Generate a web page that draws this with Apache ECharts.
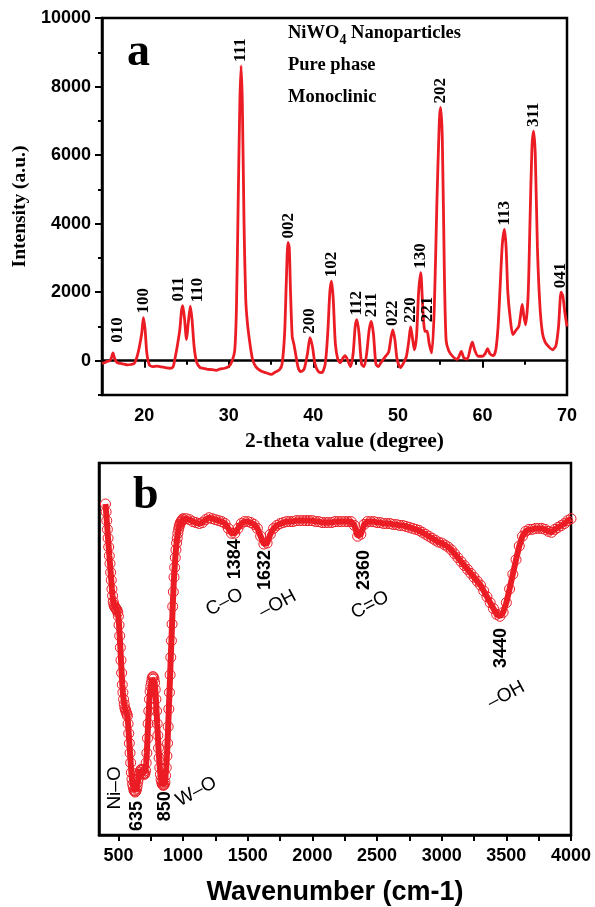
<!DOCTYPE html>
<html>
<head>
<meta charset="utf-8">
<script src="https://cdn.jsdelivr.net/npm/echarts@6/dist/echarts.min.js"></script>
<style>
  html, body { margin: 0; padding: 0; background: #fff; }
  #chart-panel { width: 595px; height: 907px; }
</style>
</head>
<body>
<div id="chart-panel"></div>
<script>
// (a) XRD pattern
var xrdTheta = [15.0, 15.3, 15.6, 15.9, 16.1, 16.3, 16.5, 16.8, 17.2, 17.6, 18.0, 18.4, 18.8, 19.1, 19.4, 19.7, 19.9, 20.1, 20.3, 20.6,
  21.0, 21.5, 22.0, 22.5, 23.0, 23.4, 23.7, 23.9, 24.2, 24.4, 24.55, 24.75, 25.0, 25.2, 25.45, 25.65, 25.9, 26.2, 26.6, 27.0,
  27.5, 28.0, 28.5, 29.0, 29.5, 30.0, 30.4, 30.7, 30.9, 31.1, 31.3, 31.45, 31.6, 31.8, 32.0, 32.2, 32.5, 32.8, 33.2, 33.8,
  34.4, 35.0, 35.5, 36.0, 36.3, 36.6, 36.8, 37.0, 37.15, 37.3, 37.5, 37.7, 37.9, 38.2, 38.5, 38.9, 39.3, 39.6, 39.9, 40.2,
  40.6, 41.0, 41.4, 41.7, 41.95, 42.15, 42.35, 42.6, 42.9, 43.2, 43.5, 43.75, 44.0, 44.4, 44.7, 44.95, 45.15, 45.4, 45.7, 46.0,
  46.3, 46.6, 46.85, 47.1, 47.4, 47.7, 48.0, 48.5, 48.9, 49.2, 49.4, 49.65, 49.9, 50.3, 50.7, 51.0, 51.3, 51.5, 51.7, 51.95,
  52.2, 52.45, 52.7, 52.95, 53.2, 53.45, 53.7, 54.0, 54.3, 54.6, 54.9, 55.05, 55.25, 55.5, 55.7, 56.0, 56.5, 57.0, 57.5, 57.8,
  58.2, 58.6, 58.8, 59.1, 59.5, 60.0, 60.3, 60.6, 60.9, 61.3, 61.6, 61.85, 62.1, 62.35, 62.6, 62.8, 63.0, 63.3, 63.6, 64.0,
  64.3, 64.55, 64.7, 64.9, 65.1, 65.4, 65.6, 65.85, 66.05, 66.25, 66.5, 66.8, 67.1, 67.4, 67.8, 68.3, 68.7, 69.0, 69.3, 69.5,
  69.75, 70.0];
var xrdCounts = [-80, -60, -20, 0, 80, 230, 60, -60, -80, -100, -120, -110, -80, 80, 380, 800, 1260, 900, 230, -120,
  -170, -160, -180, -200, -220, -180, 150, 420, 900, 1450, 1610, 1250, 620, 1100, 1590, 1200, 400, -50, -200, -220,
  -250, -260, -280, -240, -220, -170, 0, 300, 1500, 4500, 7500, 8600, 7500, 4000, 1800, 1100, 500, 50, -180, -300,
  -350, -400, -330, -260, -100, 800, 2300, 3450, 3300, 2000, 700, 480, 200, -200, -320, -250, 200, 670, 400, -100,
  -320, -350, -100, 800, 2000, 2320, 1800, 500, 30, -60, 80, 150, 50, -170, 200, 1000, 1200, 800, -100, -170,
  200, 900, 1150, 800, -100, -170, -50, 120, 250, 700, 900, 600, 50, -200, -50, 120, 600, 990, 700, 320,
  700, 2000, 2570, 1500, 860, 860, 500, 230, 1500, 4500, 7000, 7390, 6500, 2500, 600, 300, 120, 40, 270, 80,
  50, 400, 540, 300, 130, 130, 200, 350, 200, 150, 350, 1000, 2200, 3400, 3830, 3300, 2000, 1200, 760, 900,
  1000, 1400, 1640, 1300, 1050, 1900, 3800, 6200, 6700, 6000, 3300, 1590, 800, 550, 420, 320, 450, 1000, 2000, 1900,
  1400, 1000];

// indexed reflections
var hklNames = ['010', '100', '011', '110', '111', '002', '200', '102', '112', '211', '022', '220', '130', '221', '202', '113', '311', '041'];
var hklTheta = [16.3, 19.9, 24.55, 25.45, 31.45, 37.0, 39.6, 42.15, 45.15, 46.85, 49.4, 51.5, 52.7, 53.45, 55.05, 62.6, 66.05, 69.3];
var hklCounts = [230, 1260, 1610, 1590, 8600, 3450, 670, 2320, 1200, 1150, 900, 990, 2570, 860, 7390, 3830, 6700, 2000];

var xrdMajorX = [20, 30, 40, 50, 60, 70];
var xrdMinorX = [15, 25, 35, 45, 55, 65];
var xrdMajorY = [0, 2000, 4000, 6000, 8000, 10000];
var xrdMinorY = [-1000, 1000, 3000, 5000, 7000, 9000];

// (b) FTIR spectrum, transmittance (a.u.)
var irWavenumber = [400, 405, 410, 415, 420, 425, 430, 435, 440, 445, 450, 455, 460, 465, 470, 475, 480, 485, 490, 495,
  500, 505, 510, 515, 520, 525, 530, 535, 540, 545, 550, 555, 560, 565, 570, 575, 580, 585, 590, 595,
  600, 605, 610, 615, 620, 625, 630, 635, 640, 645, 650, 655, 660, 665, 670, 675, 680, 685, 690, 695,
  700, 705, 710, 715, 720, 725, 730, 735, 740, 745, 750, 755, 760, 765, 770, 775, 780, 785, 790, 795,
  800, 805, 810, 815, 820, 825, 830, 835, 840, 845, 850, 855, 860, 865, 870, 875, 880, 885, 890, 895,
  900, 905, 910, 915, 920, 925, 930, 935, 940, 945, 950, 955, 960, 965, 970, 975, 980, 985, 990, 995,
  1000, 1025, 1050, 1075, 1100, 1125, 1150, 1175, 1200, 1225, 1250, 1275, 1300, 1325, 1350, 1375, 1400, 1425, 1450, 1475,
  1500, 1525, 1550, 1575, 1600, 1625, 1650, 1675, 1700, 1725, 1750, 1775, 1800, 1825, 1850, 1875, 1900, 1925, 1950, 1975,
  2000, 2025, 2050, 2075, 2100, 2125, 2150, 2175, 2200, 2225, 2250, 2275, 2300, 2325, 2350, 2375, 2400, 2425, 2450, 2475,
  2500, 2525, 2550, 2575, 2600, 2625, 2650, 2675, 2700, 2725, 2750, 2775, 2800, 2825, 2850, 2875, 2900, 2925, 2950, 2975,
  3000, 3025, 3050, 3075, 3100, 3125, 3150, 3175, 3200, 3225, 3250, 3275, 3300, 3325, 3350, 3375, 3400, 3425, 3450, 3475,
  3500, 3525, 3550, 3575, 3600, 3625, 3650, 3675, 3700, 3725, 3750, 3775, 3800, 3825, 3850, 3875, 3900, 3925, 3950, 3975,
  4000];
var irTransmit = [67.8, 66.2, 64.4, 62.6, 60.8, 59.0, 57.2, 55.6, 53.8, 52.2, 50.4, 49.0, 47.8, 47.2, 46.8, 46.6, 46.4, 46.2, 46.0, 45.6,
  44.8, 43.0, 40.8, 38.4, 35.8, 33.2, 30.8, 29.2, 27.8, 26.8, 26.0, 25.6, 25.2, 24.8, 24.4, 22.8, 20.8, 18.8, 16.8, 14.8,
  12.8, 11.4, 10.4, 9.8, 9.2, 9.0, 8.8, 9.0, 9.4, 10.0, 10.8, 11.6, 12.4, 12.8, 13.2, 13.4, 13.4, 13.2, 12.8, 12.6,
  12.4, 12.6, 13.2, 14.8, 16.8, 19.8, 22.8, 25.4, 27.8, 29.4, 30.4, 31.2, 32.0, 32.4, 32.4, 32.0, 31.2, 29.8, 27.8, 25.4,
  22.8, 20.4, 17.8, 15.8, 13.8, 12.4, 11.4, 10.8, 10.4, 10.2, 10.2, 10.4, 10.8, 12.2, 13.8, 16.2, 18.8, 22.2, 25.8, 29.2,
  32.8, 36.4, 39.8, 43.2, 46.8, 49.8, 52.8, 54.8, 56.8, 58.4, 59.8, 60.8, 61.8, 62.6, 63.2, 63.6, 64.0, 64.2, 64.4, 64.6,
  64.8, 64.8, 64.6, 64.2, 64.0, 63.8, 64.0, 64.6, 65.0, 64.8, 64.6, 64.4, 64.2, 63.8, 62.8, 61.8, 61.8, 62.8, 63.8, 64.2,
  64.2, 64.0, 63.6, 62.8, 61.2, 59.6, 59.8, 61.6, 62.8, 63.4, 63.8, 64.0, 64.2, 64.2, 64.2, 64.4, 64.4, 64.4, 64.4, 64.4,
  64.4, 64.2, 64.2, 64.0, 64.0, 64.0, 64.0, 64.2, 64.2, 64.2, 64.2, 64.2, 64.2, 63.4, 61.2, 61.6, 63.6, 64.2, 64.2, 64.2,
  64.0, 64.0, 63.8, 63.8, 63.8, 63.6, 63.6, 63.4, 63.4, 63.2, 63.0, 62.8, 62.6, 62.4, 62.0, 61.6, 61.2, 60.8, 60.4, 60.0,
  59.8, 59.4, 59.0, 58.4, 57.6, 56.8, 56.0, 55.2, 54.4, 53.6, 52.8, 52.0, 51.2, 50.0, 48.8, 47.6, 46.4, 45.2, 44.8, 45.6,
  47.6, 50.4, 53.4, 56.4, 59.2, 61.2, 62.2, 62.6, 62.6, 62.8, 62.8, 62.8, 62.6, 62.2, 62.0, 62.6, 63.0, 63.4, 63.8, 64.4,
  64.8];

var irTickX = [500, 750, 1000, 1250, 1500, 1750, 2000, 2250, 2500, 2750, 3000, 3250, 3500, 3750, 4000];
var irLabelX = [500, 1000, 1500, 2000, 2500, 3000, 3500, 4000];

// band assignments: text, wavenumber, transmittance, angle
var irNotes = [
  ['1384', 1404, 52.4, 90, 'bold'],
  ['C\u2013O', 1187, 45.8, 28, 'normal'],
  ['1632', 1637, 50.2, 90, 'bold'],
  ['\u2013OH', 1598, 45.4, 28, 'normal'],
  ['2360', 2396, 50.2, 90, 'bold'],
  ['C=O', 2311, 45.2, 28, 'normal'],
  ['3440', 3458, 34.2, 90, 'bold'],
  ['\u2013OH', 3365, 26.8, 28, 'normal'],
  ['Ni\u2013O', 474, 5.2, 90, 'normal'],
  ['635', 645, 0.8, 90, 'bold'],
  ['850', 862, 2.8, 90, 'bold'],
  ['W\u2013O', 955, 6.8, 28, 'normal']
];

var RED = '#ec1c24';
var SERIF = 'Liberation Serif';
var SANS = 'Liberation Sans';

// small nudges so crowded labels don't collide: [d2theta, extra px]
var hklNudge = { '010': [0.6, 6], '011': [-0.45, 0], '110': [0.85, 0], '002': [0.1, 0], '221': [0.05, 5] };

function zip (xs, ys) {
  return xs.map(function (x, i) { return [x, ys[i]]; });
}

var tickLabel = {
  fontFamily: SANS, fontWeight: 'bold', fontSize: 18, color: '#000',
  formatter: function (v) { return String(v); }
};

var chart = echarts.init(document.getElementById('chart-panel'));

var option = {
  backgroundColor: '#fff',
  animation: false,
  grid: [
    { left: 102, right: 28, top: 18, bottom: 512, show: true, borderColor: '#000', borderWidth: 2.5 },
    { left: 99, right: 24, top: 463, bottom: 63, show: true, borderColor: '#000', borderWidth: 2.5 }
  ],
  xAxis: [
    {
      gridIndex: 0, type: 'value', min: 15, max: 70, position: 'bottom',
      axisLine: { show: true, lineStyle: { color: '#000', width: 2.5 } },
      axisTick: { show: true, length: 7, lineStyle: { color: '#000', width: 2 }, customValues: xrdMajorX },
      axisLabel: Object.assign({ margin: 12, customValues: xrdMajorX }, tickLabel),
      splitLine: { show: false },
      name: '2-theta value (degree)', nameLocation: 'middle', nameGap: 35,
      nameTextStyle: { fontFamily: SERIF, fontWeight: 'bold', fontSize: 21.5, color: '#000', padding: [0, 0, 0, 20] }
    },
    {
      gridIndex: 0, type: 'value', min: 15, max: 70, position: 'bottom',
      axisLine: { show: false },
      axisTick: { show: true, length: 4, lineStyle: { color: '#000', width: 2 }, customValues: xrdMinorX },
      axisLabel: { show: false },
      splitLine: { show: false }
    },
    {
      gridIndex: 1, type: 'value', min: 350, max: 4000,
      axisLine: { show: true, lineStyle: { color: '#000', width: 2.5 } },
      axisTick: { show: true, length: 6, lineStyle: { color: '#000', width: 2 }, customValues: irTickX },
      axisLabel: Object.assign({ margin: 12, customValues: irLabelX }, tickLabel),
      splitLine: { show: false },
      name: 'Wavenumber (cm-1)', nameLocation: 'middle', nameGap: 44,
      nameTextStyle: { fontFamily: SANS, fontWeight: 'bold', fontSize: 27, color: '#000' }
    }
  ],
  yAxis: [
    {
      gridIndex: 0, type: 'value', min: -1000, max: 10000, position: 'left',
      axisLine: { show: true, lineStyle: { color: '#000', width: 2.5 } },
      axisTick: { show: true, length: 7, lineStyle: { color: '#000', width: 2 }, customValues: xrdMajorY },
      axisLabel: Object.assign({ margin: 11, customValues: xrdMajorY }, tickLabel),
      splitLine: { show: false },
      name: 'Intensity (a.u.)', nameLocation: 'middle', nameGap: 66,
      nameTextStyle: { fontFamily: SERIF, fontWeight: 'bold', fontSize: 19.5, color: '#000' }
    },
    {
      gridIndex: 0, type: 'value', min: -1000, max: 10000, position: 'left',
      axisLine: { show: false },
      axisTick: { show: true, length: 4, lineStyle: { color: '#000', width: 2 }, customValues: xrdMinorY },
      axisLabel: { show: false },
      splitLine: { show: false }
    },
    {
      gridIndex: 1, type: 'value', min: 0, max: 76.2,
      axisLine: { show: true, lineStyle: { color: '#000', width: 2.5 } },
      axisTick: { show: false },
      axisLabel: { show: false },
      splitLine: { show: false }
    }
  ],
  graphic: [
    { type: 'text', left: 127, top: 30, style: { text: 'a', font: 'bold 46px "Liberation Serif"', fill: '#000' } },
    { type: 'text', left: 133, top: 473, style: { text: 'b', font: 'bold 46px "Liberation Serif"', fill: '#000' } },
    {
      type: 'text', left: 288, top: 24,
      style: {
        text: '{m|NiWO}{s|4}{m| Nanoparticles}',
        rich: {
          m: { fontFamily: SERIF, fontWeight: 'bold', fontSize: 18.5, lineHeight: 23, verticalAlign: 'top', fill: '#000' },
          s: { fontFamily: SERIF, fontWeight: 'bold', fontSize: 14, lineHeight: 14, verticalAlign: 'bottom', fill: '#000' }
        }
      }
    },
    { type: 'text', left: 288, top: 56, style: { text: 'Pure phase', font: 'bold 18.5px "Liberation Serif"', fill: '#000' } },
    { type: 'text', left: 288, top: 88, style: { text: 'Monoclinic', font: 'bold 18.5px "Liberation Serif"', fill: '#000' } }
  ],
  series: [
    {
      type: 'line', xAxisIndex: 0, yAxisIndex: 0,
      data: zip(xrdTheta, xrdCounts),
      showSymbol: false, smooth: 0.25,
      lineStyle: { color: RED, width: 2.8 },
      silent: true, z: 3
    },
    {
      type: 'scatter', xAxisIndex: 0, yAxisIndex: 0,
      symbolSize: 0, itemStyle: { color: '#000', opacity: 1 }, silent: true,
      data: hklNames.map(function (n, i) {
        var nudge = hklNudge[n] || [0, 0];
        return {
          name: n,
          value: [hklTheta[i] + nudge[0], hklCounts[i]],
          label: { distance: 4 + nudge[1] }
        };
      }),
      label: {
        show: true, position: 'top', rotate: 90, align: 'left', verticalAlign: 'middle',
        formatter: '{b}', fontFamily: SERIF, fontWeight: 'bold', fontSize: 17, color: '#000',
        textBorderWidth: 0
      },
      z: 5
    },
    {
      type: 'line', xAxisIndex: 2, yAxisIndex: 2,
      data: zip(irWavenumber, irTransmit),
      showSymbol: true, symbol: 'circle', symbolSize: 10,
      itemStyle: { color: 'transparent', borderColor: RED, borderWidth: 1 },
      lineStyle: { color: RED, width: 6 },
      silent: true, z: 3
    },
    {
      type: 'scatter', xAxisIndex: 2, yAxisIndex: 2,
      symbolSize: 0, itemStyle: { color: '#000', opacity: 1 }, silent: true,
      data: irNotes.map(function (n) {
        return {
          name: n[0],
          value: [n[1], n[2]],
          label: { rotate: n[3], fontWeight: n[4], fontSize: n[4] === 'bold' ? 18 : 19 }
        };
      }),
      label: {
        show: true, position: 'inside', align: 'left', verticalAlign: 'middle',
        formatter: '{b}', fontFamily: SANS, color: '#000',
        textBorderWidth: 0
      },
      z: 5
    }
  ]
};

chart.setOption(option);
</script>
</body>
</html>
